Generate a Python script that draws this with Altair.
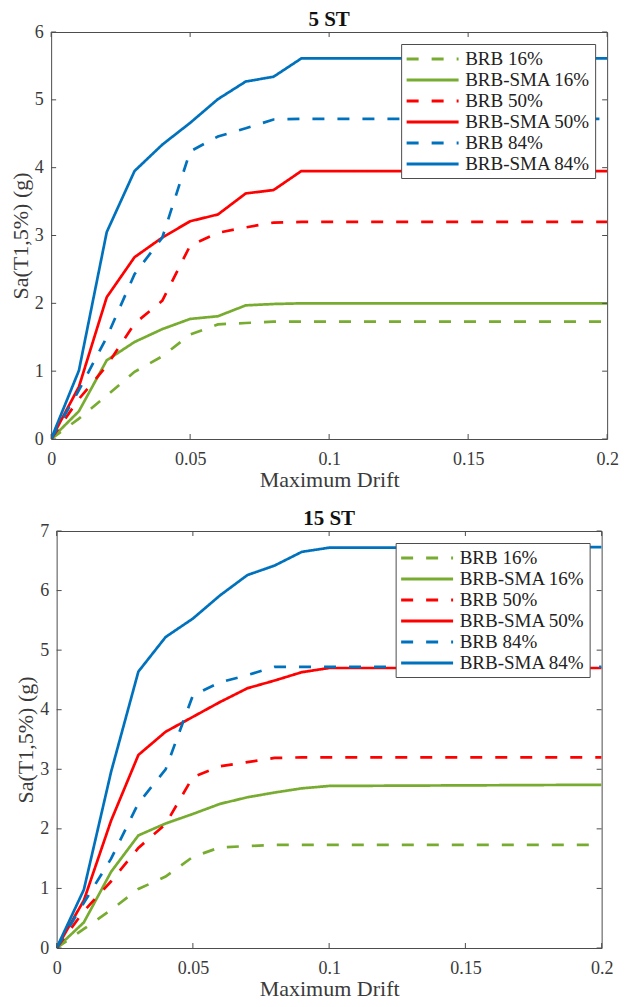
import altair as alt
import pandas as pd

# ---------------- data ----------------
drift = [0, 0.01, 0.02, 0.03, 0.04, 0.05, 0.06, 0.07, 0.08, 0.09, 0.10, 0.20]
series_names = ["BRB 16%", "BRB-SMA 16%", "BRB 50%", "BRB-SMA 50%", "BRB 84%", "BRB-SMA 84%"]

# 5 ST
st5_brb16 = [0, 0.30, 0.64, 0.99, 1.22, 1.54, 1.69, 1.71, 1.73, 1.73, 1.73, 1.73]
st5_sma16 = [0, 0.41, 1.16, 1.43, 1.62, 1.77, 1.81, 1.97, 1.99, 2.00, 2.00, 2.00]
st5_brb50 = [0, 0.59, 1.08, 1.70, 2.04, 2.85, 3.04, 3.12, 3.19, 3.20, 3.20, 3.20]
st5_sma50 = [0, 0.77, 2.09, 2.68, 2.97, 3.21, 3.31, 3.62, 3.67, 3.95, 3.95, 3.95]
st5_brb84 = [0, 0.72, 1.50, 2.43, 2.97, 4.24, 4.46, 4.58, 4.71, 4.72, 4.72, 4.72]
st5_sma84 = [0, 1.01, 3.05, 3.95, 4.34, 4.66, 5.01, 5.27, 5.34, 5.61, 5.61, 5.61]

# 15 ST
st15_brb16 = [0, 0.32, 0.64, 0.99, 1.20, 1.53, 1.69, 1.71, 1.73, 1.73, 1.73, 1.73]
st15_sma16 = [0, 0.43, 1.28, 1.89, 2.09, 2.25, 2.42, 2.53, 2.61, 2.68, 2.72, 2.74]
st15_brb50 = [0, 0.62, 1.12, 1.68, 2.08, 2.87, 3.05, 3.12, 3.19, 3.20, 3.20, 3.20]
st15_sma50 = [0, 0.80, 2.14, 3.24, 3.63, 3.88, 4.13, 4.36, 4.49, 4.63, 4.70, 4.70]
st15_brb84 = [0, 0.76, 1.50, 2.43, 3.00, 4.24, 4.46, 4.58, 4.72, 4.72, 4.72, 4.72]
st15_sma84 = [0, 0.98, 2.96, 4.64, 5.22, 5.53, 5.92, 6.26, 6.42, 6.65, 6.72, 6.73]

x_ticks = [0, 0.05, 0.1, 0.15, 0.2]
y_ticks_5 = [0, 1, 2, 3, 4, 5, 6]
y_ticks_15 = [0, 1, 2, 3, 4, 5, 6, 7]

series_colors = ["#77AC30", "#77AC30", "#FF0000", "#FF0000", "#0072BD", "#0072BD"]
series_dash = [[12, 13], [1, 0], [12, 13], [1, 0], [12, 13], [1, 0]]

FONT = "Liberation Serif"
TXT = "#3a3a3a"
FRAME = "#4d4d4d"
TICK = 5


def make_df(cols):
    rows = []
    for name, vals in zip(series_names, cols):
        for x, y in zip(drift, vals):
            rows.append({"drift": x, "sa": y, "series": name})
    return pd.DataFrame(rows)


df5 = make_df([st5_brb16, st5_sma16, st5_brb50, st5_sma50, st5_brb84, st5_sma84])
df15 = make_df([st15_brb16, st15_sma16, st15_brb50, st15_sma50, st15_brb84, st15_sma84])


def panel(df, title, ymax, yticks, w, h):
    xs = alt.Scale(domain=[0, 0.2], nice=False, zero=False)
    ys = alt.Scale(domain=[0, ymax], nice=False)
    leg = alt.Legend(
        title=None, orient="top-right", offset=12,
        fillColor="white", strokeColor=FRAME, padding=4,
        labelFont=FONT, labelFontSize=19, labelColor="#222222",
        symbolType="M-1,0H4.47", symbolSize=361, symbolStrokeWidth=3,
        labelOffset=38, rowPadding=0, labelLimit=300,
    )
    lines = alt.Chart(df).mark_line(strokeWidth=2.7, clip=True).encode(
        x=alt.X("drift:Q", scale=xs, axis=alt.Axis(
            values=x_ticks, format="~g", title="Maximum Drift",
            ticks=False, domain=False, grid=False,
            labelFlush=False, labelPadding=11, titlePadding=1,
        )),
        y=alt.Y("sa:Q", scale=ys, axis=alt.Axis(
            values=yticks, format="~g", title="Sa(T1,5%) (g)",
            ticks=False, domain=False, grid=False,
            labelFlush=False, labelPadding=8, titlePadding=2,
        )),
        color=alt.Color("series:N", scale=alt.Scale(domain=series_names, range=series_colors), legend=leg),
        strokeDash=alt.StrokeDash("series:N", scale=alt.Scale(domain=series_names, range=series_dash), legend=leg),
    )
    xt = pd.DataFrame({"drift": x_ticks})
    yt = pd.DataFrame({"sa": yticks})
    tick_style = dict(color=FRAME, strokeWidth=1)
    xtick_top = alt.Chart(xt).mark_rule(**tick_style).encode(
        x=alt.X("drift:Q", scale=xs), y=alt.value(0), y2=alt.value(TICK))
    xtick_bot = alt.Chart(xt).mark_rule(**tick_style).encode(
        x=alt.X("drift:Q", scale=xs), y=alt.value(h), y2=alt.value(h - TICK))
    ytick_left = alt.Chart(yt).mark_rule(**tick_style).encode(
        y=alt.Y("sa:Q", scale=ys), x=alt.value(0), x2=alt.value(TICK))
    ytick_right = alt.Chart(yt).mark_rule(**tick_style).encode(
        y=alt.Y("sa:Q", scale=ys), x=alt.value(w), x2=alt.value(w - TICK))
    return alt.layer(lines, xtick_top, xtick_bot, ytick_left, ytick_right).properties(
        width=w, height=h,
        title=alt.TitleParams(text=title, font=FONT, fontSize=21, fontWeight="bold",
                              color="#111111", offset=-7, frame="group", anchor="middle"),
    )


top = panel(df5, "5 ST", 6, y_ticks_5, 556, 407)
bottom = panel(df15, "15 ST", 7, y_ticks_15, 545, 417)

chart = alt.vconcat(top, bottom, spacing=16, center=True).resolve_scale(
    x="independent", y="independent", color="independent", strokeDash="independent"
).resolve_legend(
    color="independent", strokeDash="independent"
).properties(
    padding={"left": 0, "top": 0, "right": 0, "bottom": 0}
).configure_view(
    stroke=FRAME, strokeWidth=1
).configure_axis(
    labelFont=FONT, labelFontSize=18, labelColor=TXT,
    titleFont=FONT, titleFontSize=22, titleFontWeight="normal", titleColor=TXT,
)

chart.save("out.html", embed_options={"renderer": "svg", "actions": False})
